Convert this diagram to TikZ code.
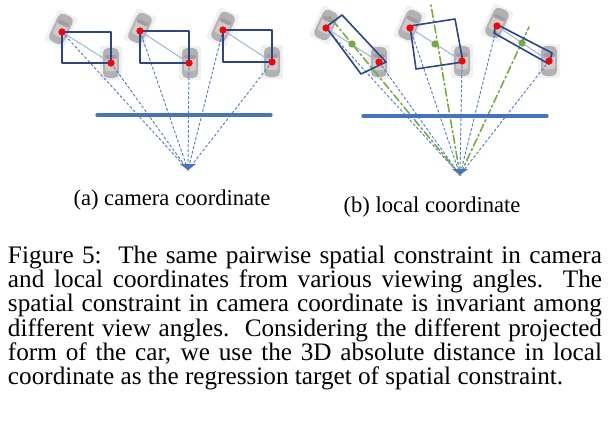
\documentclass[tikz,border=0pt]{standalone}
\usepackage{fontspec}
\setmainfont{Liberation Serif}
\definecolor{boxblue}{rgb}{0.17,0.27,0.55}
\definecolor{rayblue}{rgb}{0.35,0.5,0.85}
\definecolor{linblue}{rgb}{0.27,0.45,0.77}
\definecolor{ctrgreen}{rgb}{0.45,0.68,0.25}
\tikzset{
  ray/.style={rayblue,line width=0.5pt,dash pattern=on 1.2pt off 1.2pt},
  link/.style={rayblue!60,line width=0.5pt},
  box/.style={boxblue,line width=0.8pt},
  axis/.style={linblue,line width=1.6pt},
  mid/.style={ctrgreen,line width=0.8pt,dash pattern=on 4pt off 1.5pt on 1pt off 1.5pt},
  kp/.style={circle,fill=red,inner sep=0pt,minimum size=3.5pt},
  ctr/.style={circle,fill=ctrgreen,inner sep=0pt,minimum size=3.5pt},
  lbl/.style={font=\fontsize{11.3}{13}\selectfont},
}
\newcommand{\car}[3]{%
\begin{scope}[shift={(#1,#2)},rotate=#3]
\fill[gray!12,rounded corners=1pt] (-11,-17) rectangle (11,17);
\fill[gray!60,rounded corners=2.5pt] (-8,-15) rectangle (8,15);
\fill[gray!40,rounded corners=1pt] (-6,-7) rectangle (6,8);
\fill[gray!75,rounded corners=1pt] (-6,-8) rectangle (6,-4);
\end{scope}}
\begin{document}
\begin{tikzpicture}[x=0.5pt,y=-0.5pt,line cap=round,line join=round]
\useasboundingbox (0,0) rectangle (610,423);
%% (a) camera coordinate
\car{61}{29}{-25}\car{111}{63}{0}
\car{140}{28}{-25}\car{190}{63}{0}
\car{223}{27}{-25}\car{272}{62}{0}
\coordinate (camA) at (188,170);
\node[kp] (a1) at (62,32) {};   \node[kp] (a2) at (111,63) {};
\node[kp] (a3) at (140,31) {};  \node[kp] (a4) at (189,63) {};
\node[kp] (a5) at (223,30) {};  \node[kp] (a6) at (272,62) {};
\foreach \p in {a1,a2,a3,a4,a5,a6}
\draw[ray] (\p.center) -- (camA);
\draw[link] (a1.center) -- (a2.center);
\draw[link] (a3.center) -- (a4.center);
\draw[link] (a5.center) -- (a6.center);
\draw[box] (a1.center) rectangle (a2.center);
\draw[box] (a3.center) rectangle (a4.center);
\draw[box] (a5.center) rectangle (a6.center);
\draw[axis] (97,115) -- (271,115);
\fill[linblue] (camA) -- (180,164) -- (196,164) -- cycle;
\foreach \p in {a1,a2,a3,a4,a5,a6} \node[kp] at (\p) {};
\node[lbl] (capA) at (172,200) {(a) camera coordinate};
%% (b) local coordinate
\car{326}{25}{-25}\car{379}{62}{0}
\car{410}{25}{-25}\car{462}{61}{0}
\car{497}{23}{-25}\car{549}{61}{0}
\coordinate (camB) at (460,175);
\node[kp] (b1) at (326,28) {};  \node[kp] (b2) at (379,62) {};
\node[kp] (b3) at (410,28) {};  \node[kp] (b4) at (462,61) {};
\node[kp] (b5) at (497,26) {};  \node[kp] (b6) at (549,61) {};
\node[ctr] (c1) at (352,44) {}; \node[ctr] (c2) at (435,44) {};
\node[ctr] (c3) at (522,43) {};
\coordinate (t1) at (329,16); \coordinate (t2) at (431,5); \coordinate (t3) at (529,27);
\foreach \p in {b1,b2,b3,b4,b5,b6}
\draw[ray] (\p.center) -- (camB);
\draw[link] (b1.center) -- (b2.center);
\draw[link] (b3.center) -- (b4.center);
\draw[link] (b5.center) -- (b6.center);
\foreach \i in {1,2,3}
\draw[mid] (camB) -- (t\i);
\draw[box] (326,27) -- (342,15) -- (386,62) -- (361,74) -- cycle;
\draw[box] (410,26) -- (455,19) -- (463,62) -- (416,69) -- cycle;
\draw[box] (496,24) -- (494,33) -- (549,64) -- (552,53) -- cycle;
\draw[axis] (363,116) -- (547,116);
\fill[linblue] (camB) -- (452,169) -- (468,169) -- cycle;
\foreach \p in {b1,b2,b3,b4,b5,b6} \node[kp] at (\p) {};
\foreach \p in {c1,c2,c3} \node[ctr] at (\p) {};
\node[lbl] (capB) at (432,207) {(b) local coordinate};
%% figure caption
\node[inner sep=0pt] (fig) at (305,318)
{\parbox{297pt}{\fontsize{12.6}{12.1}\selectfont\lineskiplimit=-20pt
Figure 5:\ \ The same pairwise spatial constraint in camera\linebreak
and local coordinates from various viewing angles.\ \ The\linebreak
spatial constraint in camera coordinate is invariant among\linebreak
different view angles.\ \ Considering the different projected\linebreak
form of the car, we use the 3D absolute distance in local\linebreak
coordinate as the regression target of spatial constraint.}};
\end{tikzpicture}
\end{document}
